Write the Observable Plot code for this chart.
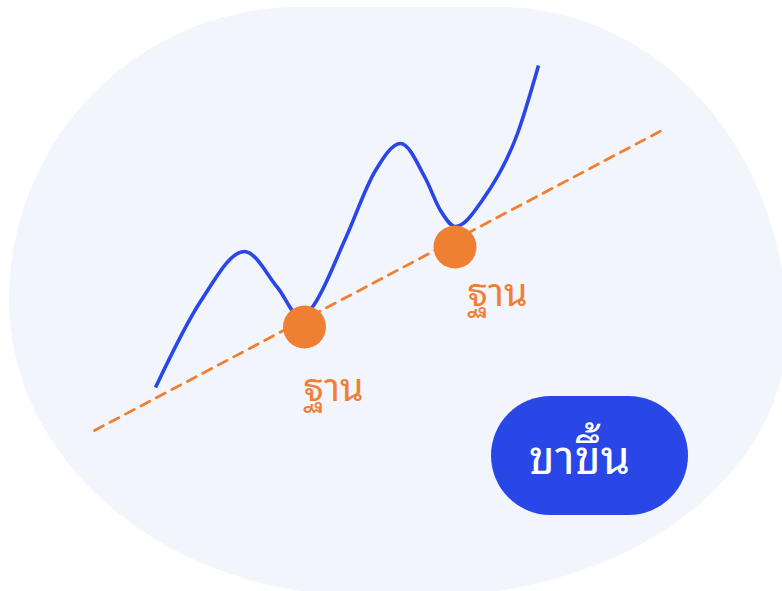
<!DOCTYPE html>
<html>
<head>
<meta charset="utf-8">
<script src="https://cdn.jsdelivr.net/npm/d3@7"></script>
<script src="https://cdn.jsdelivr.net/npm/@observablehq/plot@0.6"></script>
<style>
  html, body { margin: 0; padding: 0; background: #ffffff; }
  #wrap { position: relative; width: 782px; height: 591px; overflow: hidden; }
  #blob {
    position: absolute; left: 9px; top: 7px; width: 778px; height: 589px;
    background: #f2f5fc;
    border-radius: 290px 287px 359px 356px / 293px 323px 266px 296px;
  }
  #chart { position: absolute; left: 0; top: 0; }
</style>
</head>
<body>
<div id="wrap"><div id="blob"></div><div id="chart"></div></div>
<script>
// Price path (time, price)
const pathTime  = [155, 200, 244, 277, 301, 313, 345, 375, 400, 425, 440, 455, 483, 517, 538];
const pathPrice = [204, 290, 340, 304, 273, 286, 353, 421, 448, 413, 381, 365, 393, 458, 526];

// Support (trend) line end points
const trendTime  = [94, 665];
const trendPrice = [161, 463];

// Bases (higher lows)
const baseTime  = [304, 454.5];
const basePrice = [264.5, 344.5];
const baseLabel = ["ฐาน", "ฐาน"];
const baseLabelTime  = [333, 497];
const baseLabelPrice = [191, 286];

// Trend badge
const badgeText = ["ขาขึ้น"];
const badgeX1 = [491], badgeX2 = [688];
const badgeY1 = [76],  badgeY2 = [195];
const badgeTextTime = [579], badgeTextPrice = [118];

const path  = pathTime.map((t, i) => ({t, p: pathPrice[i]}));
const trend = trendTime.map((t, i) => ({t, p: trendPrice[i]}));
const bases = baseTime.map((t, i) => ({t, p: basePrice[i]}));
const labels = baseLabel.map((s, i) => ({s, t: baseLabelTime[i], p: baseLabelPrice[i]}));
const badge = badgeText.map((s, i) => ({s, x1: badgeX1[i], x2: badgeX2[i], y1: badgeY1[i], y2: badgeY2[i], t: badgeTextTime[i], p: badgeTextPrice[i]}));

const ORANGE = "#ef8033";
const BLUE = "#2946e6";
const THAI = "'Noto Sans Thai Looped', 'Noto Sans', sans-serif";

const chart = Plot.plot({
  width: 782,
  height: 591,
  margin: 0,
  x: {domain: [0, 782], axis: null},
  y: {domain: [0, 591], axis: null},
  style: {background: "transparent", overflow: "visible", fontFamily: THAI},
  marks: [
    Plot.line(trend, {x: "t", y: "p", stroke: ORANGE, strokeWidth: 2.8, strokeDasharray: "10,7.5"}),
    Plot.line(path, {x: "t", y: "p", curve: "monotone-x", stroke: BLUE, strokeWidth: 3.6, strokeLinecap: "butt"}),
    Plot.dot(bases, {x: "t", y: "p", r: 21.5, fill: ORANGE, stroke: null}),
    Plot.text(labels, {x: "t", y: "p", text: "s", fill: ORANGE, fontSize: 38, fontFamily: THAI, lineAnchor: "bottom", textAnchor: "middle"}),
    Plot.rect(badge, {x1: "x1", x2: "x2", y1: "y1", y2: "y2", fill: BLUE, rx: 59.5}),
    Plot.text(badge, {x: "t", y: "p", text: "s", fill: "white", fontSize: 47, fontFamily: THAI, lineAnchor: "bottom", textAnchor: "middle"})
  ]
});
document.getElementById("chart").appendChild(chart);
</script>
</body>
</html>
